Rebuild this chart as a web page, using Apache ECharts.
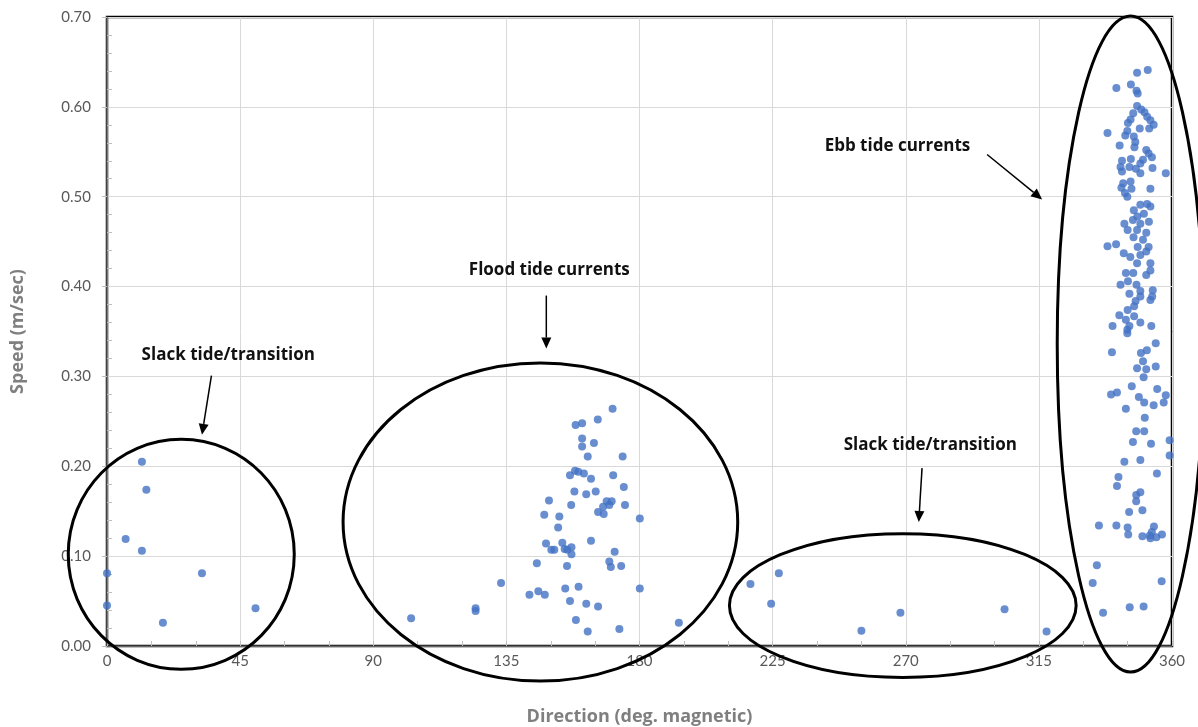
<!DOCTYPE html>
<html>
<head>
<meta charset="utf-8">
<style>
  html, body { margin: 0; padding: 0; background: #fff; }
  #chart { width: 1198px; height: 727px; }
</style>
<script src="https://cdn.jsdelivr.net/npm/echarts@6/dist/echarts.min.js"></script>
</head>
<body>
<div id="chart"></div>
<script>
// direction (deg) / speed (m/s) pairs
var slackNorth = [
  [11.8, 0.205], [13.3, 0.174], [6.3, 0.119], [11.8, 0.106], [0, 0.081],
  [0, 0.045], [18.9, 0.026], [32.1, 0.081], [50.2, 0.042]
];
var flood = [
  [170.9, 0.264], [158.4, 0.246], [160.6, 0.248], [165.9, 0.252], [160.6, 0.231],
  [160.6, 0.222], [164.6, 0.226], [162.5, 0.211], [174.3, 0.211], [156.5, 0.190],
  [158.2, 0.195], [159.3, 0.194], [161.2, 0.192], [163.6, 0.186], [171.1, 0.190],
  [174.7, 0.177], [158.0, 0.172], [165.2, 0.172], [162.0, 0.169], [149.4, 0.162],
  [156.9, 0.157], [175.1, 0.157], [168.9, 0.161], [170.6, 0.161], [169.8, 0.157],
  [167.7, 0.155], [166.0, 0.149], [167.9, 0.147], [180.1, 0.142], [147.8, 0.146],
  [152.9, 0.144], [152.5, 0.132], [148.4, 0.114], [150.2, 0.107], [151.2, 0.107],
  [153.9, 0.115], [154.7, 0.108], [155.6, 0.107], [157.0, 0.110], [157.0, 0.102],
  [163.6, 0.117], [171.6, 0.105], [145.3, 0.092], [155.5, 0.089], [169.8, 0.094],
  [170.3, 0.088], [173.8, 0.089], [133.2, 0.070], [142.8, 0.057], [145.8, 0.061],
  [148.0, 0.057], [154.9, 0.064], [159.4, 0.066], [180.1, 0.064], [156.5, 0.050],
  [162.0, 0.047], [166.0, 0.044], [124.6, 0.042], [124.6, 0.039], [102.8, 0.031],
  [158.5, 0.029], [162.5, 0.016], [173.2, 0.019], [193.3, 0.026]
];
var slackSouth = [
  [217.5, 0.069], [227.1, 0.081], [224.5, 0.047], [255.0, 0.017], [268.2, 0.037],
  [303.4, 0.041], [317.6, 0.016]
];
var ebb = [
  [351.8, 0.641], [348.2, 0.638], [341.2, 0.621], [346.1, 0.625], [348.0, 0.618],
  [348.4, 0.615], [348.2, 0.601], [349.6, 0.597], [350.7, 0.594], [346.9, 0.593],
  [346.0, 0.586], [351.6, 0.589], [345.1, 0.582], [352.7, 0.585], [353.8, 0.580],
  [349.1, 0.576], [352.3, 0.576], [338.2, 0.571], [344.9, 0.573], [344.2, 0.568],
  [347.1, 0.567], [342.3, 0.557], [347.6, 0.561], [347.3, 0.555], [351.3, 0.552],
  [352.1, 0.548], [353.2, 0.544], [346.1, 0.542], [343.1, 0.540], [350.2, 0.541],
  [349.3, 0.537], [342.6, 0.533], [345.6, 0.533], [347.8, 0.531], [353.4, 0.532],
  [343.1, 0.528], [349.3, 0.526], [357.9, 0.526], [343.5, 0.515], [346.0, 0.517],
  [342.9, 0.510], [346.3, 0.509], [352.7, 0.509], [344.1, 0.504], [344.9, 0.500],
  [349.3, 0.491], [351.6, 0.492], [352.7, 0.489], [347.1, 0.485], [350.5, 0.481],
  [348.3, 0.478], [343.9, 0.470], [346.8, 0.474], [349.3, 0.470], [352.2, 0.472],
  [345.0, 0.463], [348.2, 0.463], [351.3, 0.460], [347.0, 0.455], [350.2, 0.452],
  [338.2, 0.445], [341.1, 0.447], [348.4, 0.444], [352.1, 0.444], [343.7, 0.437],
  [345.9, 0.433], [349.3, 0.435], [351.3, 0.439],
  [348.2, 0.426], [352.7, 0.426], [344.4, 0.415], [346.9, 0.415], [351.3, 0.413],
  [352.7, 0.418], [345.1, 0.406], [342.6, 0.402], [348.0, 0.402], [345.6, 0.392],
  [349.3, 0.395], [353.5, 0.396], [353.3, 0.389], [347.7, 0.384], [349.3, 0.389],
  [352.7, 0.385], [347.2, 0.378], [345.0, 0.374], [342.2, 0.368], [347.2, 0.367],
  [344.4, 0.363], [349.3, 0.360], [339.9, 0.356], [345.6, 0.356], [344.9, 0.352],
  [344.9, 0.348], [353.0, 0.356], [354.5, 0.337], [339.7, 0.327], [349.5, 0.326],
  [351.5, 0.329], [350.2, 0.317], [348.2, 0.309], [351.3, 0.308], [354.5, 0.311],
  [350.4, 0.299], [346.4, 0.289], [355.0, 0.286], [339.4, 0.280], [341.4, 0.282],
  [348.8, 0.277], [357.9, 0.279], [350.6, 0.271], [353.8, 0.268], [357.2, 0.271],
  [344.4, 0.264], [350.8, 0.254], [347.9, 0.239], [350.6, 0.239],
  [346.8, 0.227], [352.9, 0.225], [359.2, 0.229], [359.2, 0.212], [343.9, 0.205],
  [349.3, 0.207], [354.9, 0.192], [341.9, 0.188], [341.4, 0.178], [347.9, 0.168],
  [349.3, 0.171], [347.9, 0.161], [345.5, 0.149], [350.0, 0.151], [335.3, 0.134],
  [341.2, 0.134], [345.0, 0.132], [345.2, 0.124], [350.0, 0.122], [352.5, 0.123],
  [353.9, 0.133], [353.2, 0.127], [354.7, 0.121], [356.6, 0.124], [352.7, 0.120],
  [334.6, 0.090], [333.2, 0.070], [356.5, 0.072], [336.7, 0.037], [345.7, 0.043],
  [350.4, 0.044]
];

// callouts, in data units
var labels = ['Slack tide/transition', 'Flood tide currents', 'Slack tide/transition', 'Ebb tide currents'];
var labelAt = [[41.0, 0.324], [149.5, 0.418], [278.3, 0.224], [267.2, 0.556]];
var rings = [[25.1, 0.102, 38.2, 0.128], [146.5, 0.138, 66.7, 0.177], [269.0, 0.045, 58.6, 0.080], [346.0, 0.336, 24.8, 0.365]];
var arrows = [[[35.3, 0.301], [32.1, 0.235]], [[148.5, 0.390], [148.5, 0.331]], [[275.5, 0.198], [274.4, 0.138]], [[297.5, 0.547], [316.1, 0.497]]];

var blue = '#4472C4';
var grey = '#595959';
var font = 'Lato, "Open Sans", sans-serif';
var boldFont = '"Open Sans", Lato, sans-serif';

var chart = echarts.init(document.getElementById('chart'), null, { renderer: 'canvas' });

function dots(data) {
  return { type: 'scatter', data: data, symbolSize: 8, itemStyle: { color: blue }, silent: true };
}

chart.setOption({
  animation: false,
  grid: { left: 107, right: 26, top: 17, bottom: 81, outerBoundsMode: 'none',
    show: true, borderColor: '#000', borderWidth: 2.5 },
  xAxis: {
    type: 'value', min: 0, max: 360, interval: 45,
    name: 'Direction (deg. magnetic)', nameLocation: 'middle', nameGap: 62,
    nameTextStyle: { color: '#7f7f7f', fontSize: 18, fontWeight: 'bold', fontFamily: boldFont },
    axisLine: { show: true, lineStyle: { color: '#404040', width: 1.5 } },
    axisTick: { show: true, inside: true, length: 5, lineStyle: { color: '#bfbfbf' } },
    minorTick: { show: true, splitNumber: 3, length: 5, lineStyle: { color: '#bfbfbf' } },
    axisLabel: { color: grey, fontSize: 15, fontFamily: font, margin: 8 },
    splitLine: { show: true, lineStyle: { color: '#d9d9d9', width: 1 } }
  },
  yAxis: [{
    type: 'value', min: 0, max: 0.7, interval: 0.1,
    name: 'Speed (m/sec)', nameLocation: 'middle', nameGap: 80, nameRotate: 90,
    nameTextStyle: { color: '#7f7f7f', fontSize: 18, fontWeight: 'bold', fontFamily: boldFont },
    axisLine: { show: true, lineStyle: { color: '#595959', width: 1.5 } },
    axisTick: { show: true, length: 5, lineStyle: { color: '#bfbfbf' } },
    axisLabel: { color: grey, fontSize: 15, fontFamily: font, margin: 16,
      formatter: function(v) { return v.toFixed(2); } },
    splitLine: { show: true, lineStyle: { color: '#d9d9d9', width: 1 } }
  }, {
    type: 'value', min: 0, max: 0.7, interval: 0.1, position: 'left',
    axisLine: { show: false },
    axisTick: { show: false, inside: true },
    minorTick: { show: true, splitNumber: 5, length: 5, lineStyle: { color: '#bfbfbf' } },
    axisLabel: { show: false },
    splitLine: { show: false }
  }],
  series: [dots(slackNorth), dots(flood), dots(slackSouth), dots(ebb)]
});

function px(p) { return chart.convertToPixel({ gridIndex: 0 }, p); }

var shapes = [];
rings.forEach(function(r) {
  var c = px([r[0], r[1]]);
  var e = px([r[0] + r[2], r[1] + r[3]]);
  shapes.push({ type: 'ellipse', z: 100, silent: true,
    shape: { cx: c[0], cy: c[1], rx: e[0] - c[0], ry: c[1] - e[1] },
    style: { fill: null, stroke: '#000', lineWidth: 3 } });
});
arrows.forEach(function(a) {
  var p0 = px(a[0]), p1 = px(a[1]);
  var dx = p1[0] - p0[0], dy = p1[1] - p0[1];
  var len = Math.sqrt(dx * dx + dy * dy), ux = dx / len, uy = dy / len;
  var hl = 11, hw = 5;
  var bx = p1[0] - ux * hl, by = p1[1] - uy * hl;
  shapes.push({ type: 'line', z: 100, silent: true,
    shape: { x1: p0[0], y1: p0[1], x2: bx, y2: by },
    style: { stroke: '#000', lineWidth: 1.5 } });
  shapes.push({ type: 'polygon', z: 100, silent: true,
    shape: { points: [[p1[0], p1[1]], [bx - uy * hw, by + ux * hw], [bx + uy * hw, by - ux * hw]] },
    style: { fill: '#000' } });
});
labels.forEach(function(t, i) {
  var p = px(labelAt[i]);
  shapes.push({ type: 'text', z: 100, silent: true, x: p[0], y: p[1],
    style: { text: t, fill: '#111', font: 'bold 17px ' + boldFont, align: 'center', verticalAlign: 'middle' } });
});

chart.setOption({ graphic: shapes });
window.addEventListener('resize', function() { chart.resize(); });
</script>
</body>
</html>
